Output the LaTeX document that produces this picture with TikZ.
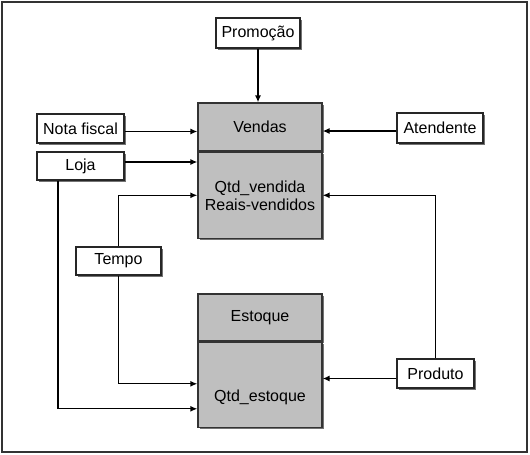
\documentclass[tikz,border=0pt]{standalone}
\usepackage{fontspec}
\setmainfont{Liberation Sans}
\usetikzlibrary{arrows.meta,shadows}

\begin{document}
\begin{tikzpicture}[
  x=1pt, y=-1pt,
  font=\fontsize{16}{18}\selectfont,
  line width=1.3pt,
  shade/.style={drop shadow={shadow xshift=1.6pt, shadow yshift=-1.6pt, fill=black!55, opacity=1}},
  box/.style={draw=black!85, fill=white, inner sep=0pt, shade},
  table/.style={draw=black!80, fill=black!25, inner sep=0pt, shade, minimum width=124pt},
  arr/.style={-{Latex[length=7pt, width=6pt]}, line width=1.3pt},
]
  % ===== frame =====
  \useasboundingbox (0,0) rectangle (530,455);
  \draw[black!80, line width=2pt] (2,2) rectangle (527,452);

  % ===== fact tables =====
  \node[table, minimum height=48pt] (vendas) at (260,127) {Vendas};
  \node[table, minimum height=86pt, anchor=north, align=center] (vendasq) at (vendas.south)
    {Qtd\_vendida\\Reais-vendidos};
  \node[table, minimum height=47pt] (estoque) at (260,317.5) {Estoque};
  \node[table, minimum height=85pt, anchor=north, text height=33pt, text depth=0pt] (estoqueq)
    at (estoque.south) {Qtd\_estoque};

  % ===== dimensions =====
  \node[box, minimum width=84pt, minimum height=30pt] (promocao) at (258,33) {Promoção};
  \node[box, minimum width=87pt, minimum height=29pt] (nota) at (80.5,128.5) {Nota fiscal};
  \node[box, minimum width=87pt, minimum height=28pt] (loja) at (80.5,166) {Loja};
  \node[box, minimum width=86pt, minimum height=30pt] (atendente) at (440,128) {Atendente};
  \node[box, minimum width=85pt, minimum height=28pt] (tempo) at (118.5,261) {Tempo};
  \node[box, minimum width=77pt, minimum height=29pt] (produto) at (435.5,373.5) {Produto};

  % ===== links =====
  \draw[arr] (promocao.south) -- (promocao.south |- vendas.north);
  \draw[arr] ([yshift=-3pt]nota.east) -- ([yshift=-3pt]nota.east -| vendas.west);
  \draw[arr] ([yshift=4pt]loja.east) -- ([yshift=4pt]loja.east -| vendasq.west);
  \draw[arr] ([yshift=-3pt]atendente.west) -- ([yshift=-3pt]atendente.west -| vendas.east);
  \draw[arr] (tempo.north) |- (vendasq.west);
  \draw[arr] (produto.north) |- (vendasq.east);
  \draw[arr] (tempo.south) |- ([yshift=1pt]estoqueq.west);
  \draw[arr] ([xshift=-22.5pt]loja.south) |- ([yshift=-24pt]estoqueq.west);
  \draw[arr] ([yshift=-5pt]produto.west) -- ([yshift=-5pt]produto.west -| estoqueq.east);
\end{tikzpicture}
\end{document}
